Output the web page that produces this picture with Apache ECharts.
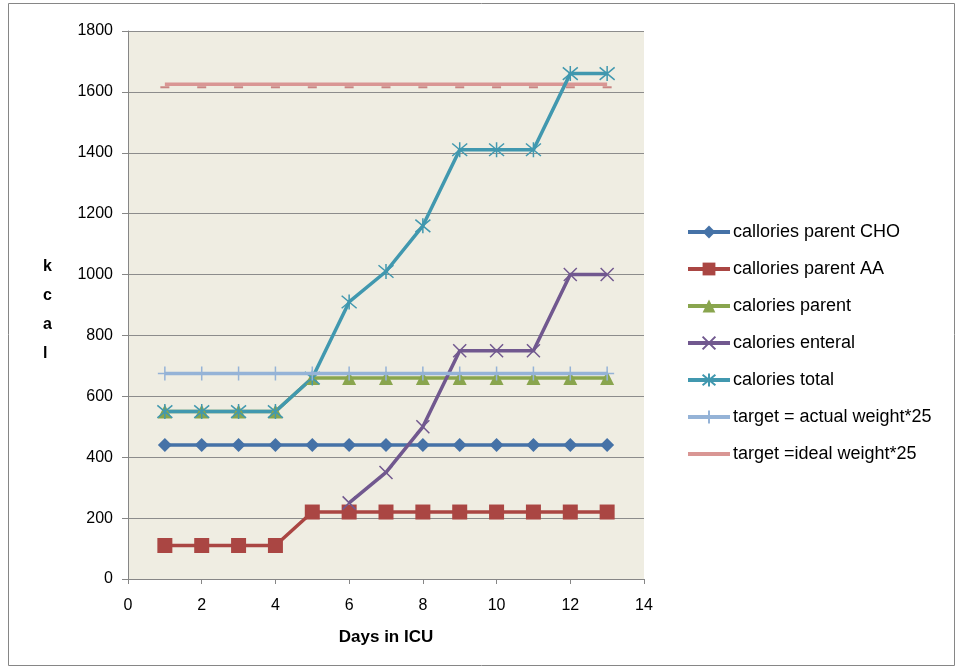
<!DOCTYPE html>
<html><head><meta charset="utf-8">
<script src="https://cdn.jsdelivr.net/npm/echarts@6/dist/echarts.min.js"></script>
<style>html,body{margin:0;padding:0;background:#fff}#c{width:959px;height:669px}</style>
</head><body><div id="c"></div>
<script>
const days = [1,2,3,4,5,6,7,8,9,10,11,12,13];
const choCal = [440,440,440,440,440,440,440,440,440,440,440,440,440];
const aaCal = [110,110,110,110,220,220,220,220,220,220,220,220,220];
const parentCal = [550,550,550,550,660,660,660,660,660,660,660,660,660];
const enteralCal = [null,null,null,null,null,250,350,500,750,750,750,1000,1000];
const totalCal = [550,550,550,550,660,910,1010,1160,1410,1410,1410,1660,1660];
const actualTarget = [675,675,675,675,675,675,675,675,675,675,675,675,675];
const idealTarget = [1625,1625,1625,1625,1625,1625,1625,1625,1625,1625,1625,1625,1625];
const seriesNames = ['callories parent CHO','callories parent AA','calories parent','calories enteral','calories total','target = actual weight*25','target =ideal weight*25'];

const pair = arr => days.map((d,i)=>[d, arr[i]]);
const FONT = '"Liberation Sans", Arial, sans-serif';

const chart = echarts.init(document.getElementById('c'), null, {renderer:'canvas'});
function lineSeries(name, data, color, symbol, size, extra) {
  return Object.assign({
    name, type:'line', data: pair(data), symbol, symbolSize:size,
    lineStyle:{color, width:3.5}, itemStyle:{color}, connectNulls:false,
    z: 2, animation:false
  }, extra||{});
}
const X_PATH = 'path://M0 0L10 10M10 0L0 10';
const AST_PATH = 'path://M0 0L10 10M10 0L0 10M5 -1L5 11';
const PLUS_PATH = 'path://M5 0L5 10M0 5L10 5';
const DASH_PATH = 'path://M0 0L10 0L10 2L0 2Z';

const legendData = seriesNames.map((n, i) => i === 6
  ? {name:n, itemStyle:{color:'rgba(0,0,0,0)', borderWidth:0, opacity:0}}
  : {name:n});

chart.setOption({
  animation:false,
  backgroundColor:'#ffffff',
  grid:{left:128, right:315, top:31, bottom:90, show:true, backgroundColor:'#EFEDE2', borderWidth:0},
  xAxis:{type:'value', min:0, max:14, interval:2,
    axisLine:{show:true, lineStyle:{color:'#868686', width:1}},
    axisTick:{show:true, length:5, lineStyle:{color:'#868686'}},
    splitLine:{show:false},
    axisLabel:{color:'#000', fontSize:16, fontFamily:FONT, margin:19},
    name:'Days in ICU', nameLocation:'middle', nameGap:50,
    nameTextStyle:{color:'#000', fontSize:17, fontWeight:'bold', fontFamily:FONT}
  },
  yAxis:{type:'value', min:0, max:1800, interval:200,
    axisLine:{show:true, lineStyle:{color:'#868686', width:1}},
    axisTick:{show:true, length:6, lineStyle:{color:'#868686'}},
    splitLine:{show:true, lineStyle:{color:'#8C8C8C', width:1}},
    axisLabel:{color:'#000', fontSize:16, fontFamily:FONT, margin:15, formatter: v => String(v)}
  },
  legend:{orient:'vertical', left:681, top:218, itemGap:19, itemWidth:42, itemHeight:16,
    lineStyle:{width:4},
    textStyle:{fontSize:18, fontFamily:FONT, color:'#000', padding:[0,0,0,-2]},
    data: legendData
  },
  series:[
    lineSeries(seriesNames[6], idealTarget, '#D99694', DASH_PATH, [9,2],
      {symbolOffset:[0,3], itemStyle:{color:'#C98583'}, z:1}),
    lineSeries(seriesNames[5], actualTarget, '#95B3D7', PLUS_PATH, 14,
      {itemStyle:{color:'none', borderColor:'#95B3D7', borderWidth:1.5}, z:3}),
    lineSeries(seriesNames[0], choCal, '#4572A7', 'diamond', 14),
    lineSeries(seriesNames[1], aaCal, '#AA4643', 'rect', 15),
    lineSeries(seriesNames[2], parentCal, '#89A54E', 'triangle', 14),
    lineSeries(seriesNames[3], enteralCal, '#71588F', X_PATH, 13,
      {itemStyle:{color:'none', borderColor:'#71588F', borderWidth:1.5}}),
    lineSeries(seriesNames[4], totalCal, '#4198AF', AST_PATH, 15,
      {itemStyle:{color:'none', borderColor:'#4198AF', borderWidth:1.5}})
  ],
  graphic:[
    {type:'rect', shape:{x:8.5, y:3.5, width:946, height:662}, style:{fill:'none', stroke:'#868686', lineWidth:1}, silent:true},
    {type:'text', left:43, top:252, style:{text:'k\nc\na\nl', font:'bold 16px '+FONT, fill:'#000', lineHeight:29, align:'center'}}
  ]
});
</script></body></html>
